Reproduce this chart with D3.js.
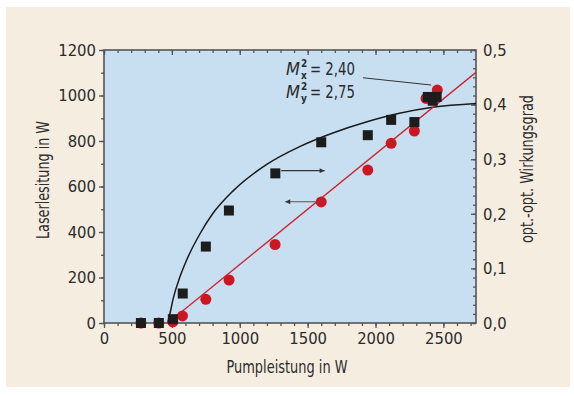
<!DOCTYPE html>
<html>
<head>
<meta charset="utf-8">
<script src="https://cdn.jsdelivr.net/npm/d3@7"></script>
<style>
body { margin: 0; background: #fff; }
text { font-family: 'Liberation Sans Narrow', 'DejaVu Sans Condensed', 'DejaVu Sans', sans-serif; font-stretch: condensed; fill: #2b2b2b; }
</style>
</head>
<body>
<div id="chart"></div>
<script>
// red circles: laser power (left axis)
var pumpLaser = [272, 404, 507, 578, 750, 921, 1260, 1600, 1943, 2115, 2286, 2372, 2455];
var laserPower = [0, 0, 5, 31, 104, 189, 345, 532, 672, 790, 844, 987, 1024];

// black squares: opt.-opt. efficiency (right axis)
var pumpEff = [272, 404, 507, 580, 750, 920, 1262, 1600, 1943, 2115, 2286, 2385, 2421, 2450];
var efficiency = [0, 0, 0.007, 0.054, 0.140, 0.206, 0.274, 0.331, 0.344, 0.372, 0.368, 0.414, 0.407, 0.414];

// fitted curves
var effFitPump = [470, 490, 510, 560, 608, 706, 800, 951, 1196, 1441, 1686, 1931, 2176, 2421, 2740];
var effFitVal = [0, 0.022, 0.045, 0.085, 0.115, 0.163, 0.2, 0.242, 0.29, 0.323, 0.348, 0.368, 0.384, 0.395, 0.402];
var laserFitPump = [470, 2740];
var laserFitVal = [0, 1102];

// ticks
var xTicks = [0, 500, 1000, 1500, 2000, 2500];
var yLeftTicks = [0, 200, 400, 600, 800, 1000, 1200];
var yRightTicks = [0, 0.1, 0.2, 0.3, 0.4, 0.5];

var W = 574, H = 396;
var pLeft = 104, pRight = 476, pTop = 50, pBottom = 323;

var svg = d3.select("#chart").append("svg")
  .attr("width", W).attr("height", H);

// panel background
svg.append("rect").attr("x", 6).attr("y", 7).attr("width", 564).attr("height", 380)
  .attr("fill", "#f6ede1");
svg.append("rect").attr("x", pLeft).attr("y", pTop).attr("width", pRight - pLeft).attr("height", pBottom - pTop)
  .attr("fill", "#c8dff2");

var x = d3.scaleLinear().domain([0, 2740]).range([pLeft, pRight]);
var yL = d3.scaleLinear().domain([0, 1200]).range([pBottom, pTop]);
var yR = d3.scaleLinear().domain([0, 0.5]).range([pBottom, pTop]);

var axisColor = "#555";
var fmtR = function(d){ return d3.format(".1f")(d).replace(".", ","); };

function styleAxis(g) {
  g.select(".domain").remove();
  g.selectAll("line").attr("stroke", axisColor).attr("stroke-width", 1.3);
  g.selectAll("text").style("font-size", "16.5px").attr("fill", "#2b2b2b");
}

// minor ticks
var minorX = d3.range(0, 2701, 100);
var minorL = d3.range(0, 1201, 100);
var minorR = d3.range(0, 31).map(function(i){ return i / 60; });

svg.append("g").attr("transform", "translate(0," + pBottom + ")")
  .call(d3.axisBottom(x).tickValues(minorX).tickSize(3).tickFormat("")).call(styleAxis);
svg.append("g").attr("transform", "translate(0," + pTop + ")")
  .call(d3.axisBottom(x).tickValues(minorX).tickSize(3).tickFormat("")).call(styleAxis);
svg.append("g").attr("transform", "translate(" + pLeft + ",0)")
  .call(d3.axisLeft(yL).tickValues(minorL).tickSize(3).tickFormat("")).call(styleAxis);
svg.append("g").attr("transform", "translate(" + pRight + ",0)")
  .call(d3.axisLeft(yR).tickValues(minorR).tickSize(3).tickFormat("")).call(styleAxis);

// major ticks + labels
svg.append("g").attr("transform", "translate(0," + pBottom + ")")
  .call(d3.axisBottom(x).tickValues(xTicks).tickSize(5).tickPadding(4).tickFormat(d3.format("d"))).call(styleAxis);
svg.append("g").attr("transform", "translate(0," + pTop + ")")
  .call(d3.axisBottom(x).tickValues(xTicks).tickSize(5).tickFormat("")).call(styleAxis);
svg.append("g").attr("transform", "translate(" + pLeft + ",0)")
  .call(d3.axisLeft(yL).tickValues(yLeftTicks).tickSize(5).tickPadding(3).tickFormat(d3.format("d"))).call(styleAxis);
var gr = svg.append("g").attr("transform", "translate(" + pRight + ",0)")
  .call(d3.axisLeft(yR).tickValues(yRightTicks).tickSize(5).tickFormat(fmtR)).call(styleAxis);
gr.selectAll("text").attr("x", 7).attr("text-anchor", "start");

// frame
svg.append("rect").attr("x", pLeft).attr("y", pTop).attr("width", pRight - pLeft).attr("height", pBottom - pTop)
  .attr("fill", "none").attr("stroke", axisColor).attr("stroke-width", 1.6);

// axis titles
svg.append("text").attr("x", 287).attr("y", 373).attr("text-anchor", "middle")
  .attr("textLength", 121).attr("lengthAdjust", "spacingAndGlyphs")
  .style("font-size", "17px").text("Pumpleistung in W");
svg.append("text").attr("transform", "translate(49,180) rotate(-90)").attr("text-anchor", "middle")
  .attr("textLength", 118).attr("lengthAdjust", "spacingAndGlyphs")
  .style("font-size", "17px").text("Laserlesitung in W");
svg.append("text").attr("transform", "translate(533,169) rotate(-90)").attr("text-anchor", "middle")
  .attr("textLength", 148).attr("lengthAdjust", "spacingAndGlyphs")
  .style("font-size", "17px").text("opt.-opt. Wirkungsgrad");

// clip to the plot area
svg.append("clipPath").attr("id", "clip").append("rect")
  .attr("x", pLeft).attr("y", pTop).attr("width", pRight - pLeft).attr("height", pBottom - pTop);
var plot = svg.append("g").attr("clip-path", "url(#clip)");

// fit lines
var effFit = effFitPump.map(function(p, i){ return [p, effFitVal[i]]; });
plot.append("path").datum(effFit)
  .attr("fill", "none").attr("stroke", "#1a1a1a").attr("stroke-width", 1.5)
  .attr("d", d3.line().x(function(d){ return x(d[0]); }).y(function(d){ return yR(d[1]); }).curve(d3.curveMonotoneX));

var laserFit = laserFitPump.map(function(p, i){ return [p, laserFitVal[i]]; });
plot.append("path").datum(laserFit)
  .attr("fill", "none").attr("stroke", "#d0202a").attr("stroke-width", 1.3)
  .attr("d", d3.line().x(function(d){ return x(d[0]); }).y(function(d){ return yL(d[1]); }));

// markers
var dataL = pumpLaser.map(function(p, i){ return {p: p, v: laserPower[i]}; });
var dataE = pumpEff.map(function(p, i){ return {p: p, v: efficiency[i]}; });

svg.selectAll("circle.laser").data(dataL).enter().append("circle")
  .attr("class", "laser")
  .attr("cx", function(d){ return x(d.p); })
  .attr("cy", function(d){ return yL(d.v); })
  .attr("r", 5.5)
  .attr("fill", "#cc1722");

var sq = 10;
svg.selectAll("rect.eff").data(dataE).enter().append("rect")
  .attr("class", "eff")
  .attr("x", function(d){ return x(d.p) - sq / 2; })
  .attr("y", function(d){ return yR(d.v) - sq / 2; })
  .attr("width", sq).attr("height", sq)
  .attr("fill", "#1c1c1c");

// arrows showing which axis belongs to which series
var defs = svg.append("defs");
defs.append("marker").attr("id", "ah").attr("viewBox", "0 0 10 10")
  .attr("refX", 10).attr("refY", 5).attr("markerWidth", 9).attr("markerHeight", 5)
  .attr("markerUnits", "userSpaceOnUse").attr("orient", "auto")
  .append("path").attr("d", "M0,0 L10,5 L0,10 z").attr("fill", "#333");

svg.append("line")
  .attr("x1", x(1305)).attr("x2", x(1625)).attr("y1", yR(0.279)).attr("y2", yR(0.279))
  .attr("stroke", "#333").attr("stroke-width", 1.1).attr("marker-end", "url(#ah)");
svg.append("line")
  .attr("x1", x(1625)).attr("x2", x(1335)).attr("y1", yL(533)).attr("y2", yL(533))
  .attr("stroke", "#555").attr("stroke-width", 1.1).attr("marker-end", "url(#ah)");

// beam quality annotation
var ax = x(1340), ay1 = yL(1090), ay2 = yL(990);
function mLabel(yb, sub, val) {
  svg.append("text").attr("x", ax).attr("y", yb).style("font-size", "18px")
    .style("font-style", "italic").text("M");
  svg.append("text").attr("x", ax + 15).attr("y", yb - 8).style("font-size", "10px")
    .style("font-weight", "bold").text("2");
  svg.append("text").attr("x", ax + 15).attr("y", yb + 4).style("font-size", "10px")
    .style("font-weight", "bold").text(sub);
  svg.append("text").attr("x", ax + 24).attr("y", yb).style("font-size", "18px")
    .attr("textLength", 45).attr("lengthAdjust", "spacingAndGlyphs").text("= " + val);
}
mLabel(ay1, "x", "2,40");
mLabel(ay2, "y", "2,75");

svg.append("line")
  .attr("x1", x(1907)).attr("y1", yL(1078)).attr("x2", x(2410)).attr("y2", yL(1046))
  .attr("stroke", "#333").attr("stroke-width", 1);
</script>
</body>
</html>
